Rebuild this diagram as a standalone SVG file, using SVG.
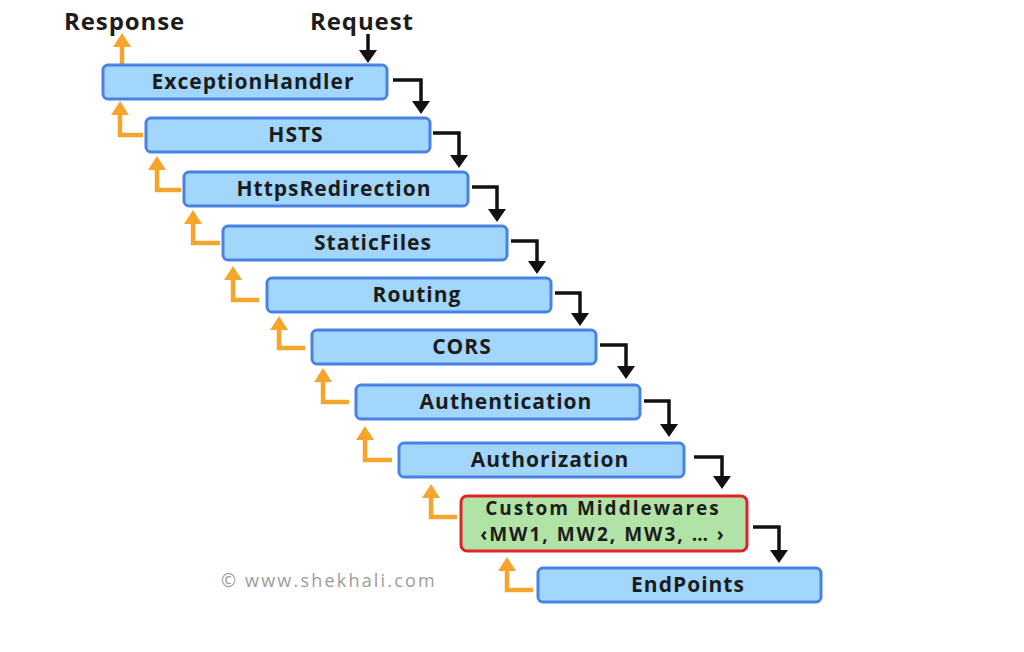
<svg xmlns="http://www.w3.org/2000/svg" width="1024" height="652" viewBox="0 0 1024 652">
<defs>
<style>
.box{fill:#a2d6fb;stroke:#4a82e4;stroke-width:3}
.custom{fill:#b1e3a6;stroke:#e2222b;stroke-width:3}
.lbl{font-family:"Open Sans","Liberation Sans",sans-serif;font-weight:700;font-size:21px;letter-spacing:1px;fill:#1c1c1c;text-anchor:middle}
.lbl2{font-size:19px;letter-spacing:2px}
.title{font-family:"Open Sans","Liberation Sans",sans-serif;font-weight:700;font-size:24px;letter-spacing:0.9px;fill:#1c1c1c}
.blk{fill:none;stroke:#111;stroke-width:3.5;stroke-linejoin:miter}
.org{fill:none;stroke:#f5a52b;stroke-width:4.5;stroke-linejoin:miter}
.wm{font-family:"Open Sans","Liberation Sans",sans-serif;font-size:18px;letter-spacing:2.2px;fill:#9c9c9c}
</style>
<marker id="ab" markerUnits="userSpaceOnUse" markerWidth="14" markerHeight="20" refX="0" refY="10" orient="auto" viewBox="0 0 14 20">
<path d="M0,1 L13,10 L0,19 z" fill="#111"/>
</marker>
<marker id="ao" markerUnits="userSpaceOnUse" markerWidth="15" markerHeight="20" refX="0" refY="10" orient="auto" viewBox="0 0 15 20">
<path d="M0,1 L14,10 L0,19 z" fill="#f5a52b"/>
</marker>
</defs>
<rect width="1024" height="652" fill="#ffffff"/>

<g id="titles">
<text class="title" x="64" y="30">Response</text>
<text class="title" x="310" y="30">Request</text>
</g>

<g id="connectors">
<path class="blk" d="M368,34 V50" marker-end="url(#ab)"/>
<path class="blk" d="M393,80 H421 V101" marker-end="url(#ab)"/>
<path class="blk" d="M433,133 H459 V155" marker-end="url(#ab)"/>
<path class="blk" d="M472,187 H497 V209" marker-end="url(#ab)"/>
<path class="blk" d="M511,241 H537 V261" marker-end="url(#ab)"/>
<path class="blk" d="M555,293 H580 V313" marker-end="url(#ab)"/>
<path class="blk" d="M600,345 H626 V366" marker-end="url(#ab)"/>
<path class="blk" d="M644,401 H669 V424" marker-end="url(#ab)"/>
<path class="blk" d="M694,457 H722 V476" marker-end="url(#ab)"/>
<path class="blk" d="M753,527 H779 V550" marker-end="url(#ab)"/>

<path class="org" d="M122,64 V47" marker-end="url(#ao)"/>
<path class="org" d="M143,135 H120 V115" marker-end="url(#ao)"/>
<path class="org" d="M181,190 H157 V170" marker-end="url(#ao)"/>
<path class="org" d="M220,243 H193 V224" marker-end="url(#ao)"/>
<path class="org" d="M259,300 H233 V280" marker-end="url(#ao)"/>
<path class="org" d="M305,348 H279 V330" marker-end="url(#ao)"/>
<path class="org" d="M349,402 H323 V382" marker-end="url(#ao)"/>
<path class="org" d="M392,460 H365 V440" marker-end="url(#ao)"/>
<path class="org" d="M457,517 H431 V498" marker-end="url(#ao)"/>
<path class="org" d="M533,590 H507 V571" marker-end="url(#ao)"/>
</g>

<g id="n1"><rect class="box" x="103" y="65" width="284" height="34" rx="5"/><text class="lbl" x="253" y="89">ExceptionHandler</text></g>
<g id="n2"><rect class="box" x="146" y="118" width="284" height="34" rx="5"/><text class="lbl" x="296" y="142">HSTS</text></g>
<g id="n3"><rect class="box" x="184" y="172" width="284" height="34" rx="5"/><text class="lbl" x="334" y="196">HttpsRedirection</text></g>
<g id="n4"><rect class="box" x="223" y="226" width="284" height="34" rx="5"/><text class="lbl" x="373" y="250">StaticFiles</text></g>
<g id="n5"><rect class="box" x="267" y="278" width="284" height="34" rx="5"/><text class="lbl" x="417" y="302">Routing</text></g>
<g id="n6"><rect class="box" x="312" y="330" width="284" height="34" rx="5"/><text class="lbl" x="462" y="354">CORS</text></g>
<g id="n7"><rect class="box" x="356" y="385" width="284" height="34" rx="5"/><text class="lbl" x="506" y="409">Authentication</text></g>
<g id="n8"><rect class="box" x="399" y="443" width="285" height="34" rx="5"/><text class="lbl" x="550" y="467">Authorization</text></g>
<g id="n9"><rect class="custom" x="461" y="496" width="286" height="55" rx="6"/><text class="lbl lbl2" x="603" y="515">Custom Middlewares</text><text class="lbl lbl2" x="603" y="541">‹MW1, MW2, MW3, … ›</text></g>
<g id="n10"><rect class="box" x="538" y="568" width="283" height="34" rx="5"/><text class="lbl" x="688" y="592">EndPoints</text></g>

<g id="watermark">
<text class="wm" x="221" y="587">© www.shekhali.com</text>
</g>
</svg>
